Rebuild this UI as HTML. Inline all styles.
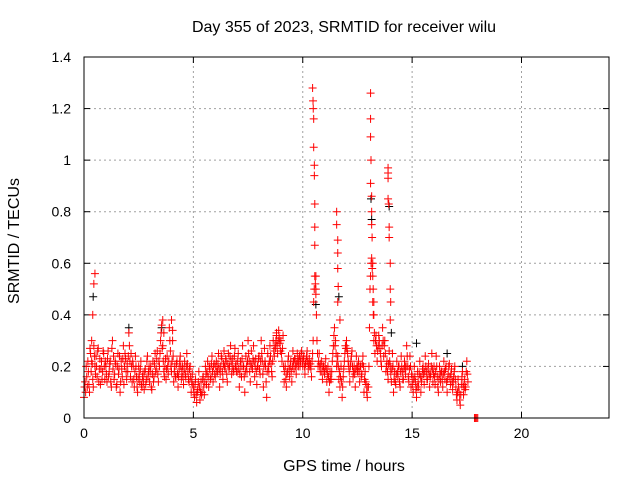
<!DOCTYPE html>
<html><head><meta charset="utf-8"><style>
body{margin:0;background:#fff}
svg text{font-family:"Liberation Sans",sans-serif;font-size:14px;fill:#000}
svg text.big{font-size:16px}
</style></head><body>
<svg id="chart" width="640" height="480" xmlns="http://www.w3.org/2000/svg">
<rect width="640" height="480" fill="#fff"/>
<text class="big" x="344" y="32" text-anchor="middle">Day 355 of 2023, SRMTID for receiver wilu</text>
<text class="big" x="344" y="471" text-anchor="middle">GPS time / hours</text>
<text class="big" x="19" y="241" text-anchor="middle" transform="rotate(-90 19 241)">SRMTID / TECUs</text>
<g id="grid"></g><g id="axes"></g><g id="marks"></g>
<rect x="84" y="57" width="525" height="361" fill="none" stroke="#000" stroke-width="1"/>
</svg>
<script>
const xTicks=[0,5,10,15,20];
const yTicks=[0,0.2,0.4,0.6,0.8,1,1.2,1.4];
const yTickLabels=["0","0.2","0.4","0.6","0.8","1","1.2","1.4"];
const baseStart=0, baseStep=0.05;
const baseValues=[
0.08,0.14,0.2,0.12,0.18,0.1,0.25,0.22,0.15,0.28,0.2,0.24,0.16,0.27,0.19,0.13,0.22,0.18,0.25,0.15,
0.2,0.14,0.26,0.18,0.22,0.12,0.3,0.24,0.17,0.21,0.13,0.25,0.19,0.1,0.22,0.16,0.28,0.2,0.23,0.15,
0.18,0.33,0.22,0.25,0.14,0.2,0.12,0.24,0.16,0.1,0.2,0.14,0.22,0.12,0.17,0.11,0.19,0.15,0.24,0.18,
0.14,0.2,0.11,0.22,0.16,0.25,0.19,0.26,0.14,0.2,0.3,0.36,0.28,0.18,0.2,0.15,0.24,0.17,0.35,0.26,
0.18,0.3,0.14,0.2,0.16,0.22,0.12,0.19,0.24,0.15,0.2,0.13,0.22,0.16,0.25,0.18,0.14,0.2,0.1,0.17,
0.12,0.08,0.15,0.06,0.11,0.18,0.07,0.14,0.1,0.16,0.09,0.2,0.13,0.22,0.12,0.19,0.16,0.24,0.14,0.21,
0.16,0.22,0.18,0.25,0.12,0.2,0.23,0.15,0.26,0.19,0.22,0.14,0.25,0.2,0.28,0.17,0.23,0.19,0.27,0.21,
0.18,0.25,0.12,0.22,0.16,0.28,0.2,0.1,0.24,0.18,0.3,0.22,0.14,0.26,0.19,0.28,0.16,0.23,0.13,0.2,
0.24,0.17,0.3,0.22,0.12,0.27,0.2,0.08,0.25,0.18,0.28,0.21,0.16,0.3,0.24,0.27,0.32,0.25,0.34,0.29,
0.3,0.22,0.32,0.14,0.2,0.12,0.18,0.24,0.16,0.22,0.14,0.26,0.19,0.23,0.17,0.25,0.2,0.24,0.22,0.26,
0.2,0.24,0.17,0.22,0.26,0.19,0.23,0.21,0.16,0.25,0.45,0.55,0.5,0.3,0.2,0.25,0.18,0.22,0.15,0.2,
0.17,0.23,0.14,0.2,0.1,0.18,0.15,0.22,0.28,0.35,0.3,0.2,0.24,0.15,0.12,0.2,0.08,0.16,0.22,0.28,
0.3,0.25,0.2,0.14,0.22,0.26,0.16,0.2,0.12,0.24,0.18,0.22,0.14,0.2,0.17,0.24,0.1,0.18,0.13,0.08,
0.12,0.35,0.55,0.62,0.45,0.3,0.25,0.32,0.22,0.28,0.3,0.25,0.2,0.35,0.24,0.3,0.18,0.22,0.15,0.26,
0.2,0.14,0.25,0.1,0.18,0.13,0.22,0.16,0.2,0.12,0.24,0.18,0.15,0.22,0.17,0.28,0.2,0.14,0.24,0.12,
0.16,0.1,0.2,0.14,0.08,0.18,0.12,0.22,0.1,0.16,0.2,0.13,0.24,0.18,0.15,0.21,0.12,0.17,0.25,0.14,
0.2,0.13,0.24,0.16,0.1,0.2,0.14,0.18,0.12,0.22,0.15,0.2,0.1,0.17,0.21,0.13,0.19,0.11,0.16,0.2,
0.12,0.07,0.15,0.1,0.05,0.13,0.18,0.09,0.15,0.12,0.22,0.14];
const base2Start=0.025;
const base2Values=[
0.12,0.1,0.16,0.22,0.13,0.27,0.18,0.21,0.12,0.24,0.17,0.2,0.26,0.14,0.23,0.19,0.15,0.26,0.2,0.22,
0.17,0.23,0.16,0.21,0.14,0.27,0.19,0.15,0.22,0.12,0.2,0.17,0.24,0.14,0.19,0.23,0.13,0.25,0.18,0.21,
0.24,0.28,0.16,0.2,0.22,0.15,0.18,0.2,0.12,0.15,0.17,0.19,0.13,0.16,0.14,0.18,0.13,0.22,0.16,0.2,
0.18,0.12,0.17,0.14,0.21,0.18,0.23,0.17,0.22,0.25,0.33,0.27,0.22,0.16,0.23,0.19,0.2,0.22,0.3,0.2,
0.22,0.24,0.18,0.16,0.21,0.17,0.16,0.22,0.2,0.18,0.16,0.19,0.17,0.2,0.21,0.15,0.19,0.16,0.14,0.13,
0.1,0.13,0.09,0.1,0.14,0.12,0.1,0.09,0.15,0.12,0.14,0.17,0.18,0.16,0.2,0.15,0.21,0.18,0.2,0.17,
0.2,0.18,0.21,0.19,0.17,0.24,0.18,0.21,0.2,0.23,0.17,0.21,0.19,0.24,0.22,0.2,0.18,0.24,0.2,0.18,
0.22,0.19,0.17,0.2,0.23,0.2,0.16,0.18,0.2,0.22,0.25,0.18,0.21,0.2,0.23,0.22,0.2,0.18,0.2,0.23,
0.19,0.22,0.25,0.17,0.2,0.22,0.14,0.18,0.2,0.22,0.24,0.18,0.22,0.26,0.28,0.3,0.28,0.3,0.31,0.26,
0.25,0.27,0.2,0.18,0.15,0.17,0.22,0.19,0.2,0.18,0.2,0.22,0.23,0.2,0.21,0.22,0.23,0.2,0.25,0.22,
0.23,0.2,0.21,0.24,0.22,0.21,0.2,0.19,0.22,0.3,0.5,0.52,0.4,0.25,0.22,0.2,0.21,0.18,0.2,0.18,
0.2,0.19,0.17,0.16,0.14,0.15,0.18,0.25,0.32,0.28,0.25,0.22,0.2,0.18,0.16,0.14,0.12,0.19,0.25,0.27,
0.27,0.22,0.18,0.2,0.24,0.2,0.18,0.17,0.19,0.2,0.2,0.18,0.2,0.16,0.21,0.2,0.15,0.14,0.1,0.12,
0.2,0.5,0.6,0.58,0.4,0.33,0.3,0.28,0.26,0.32,0.27,0.22,0.28,0.3,0.28,0.25,0.2,0.18,0.21,0.22,
0.17,0.19,0.2,0.15,0.14,0.17,0.18,0.2,0.14,0.18,0.2,0.15,0.19,0.2,0.2,0.24,0.16,0.19,0.2,0.17,
0.13,0.15,0.16,0.11,0.12,0.14,0.17,0.16,0.14,0.19,0.17,0.18,0.2,0.15,0.19,0.17,0.16,0.2,0.19,0.17,
0.16,0.18,0.2,0.12,0.15,0.17,0.18,0.15,0.17,0.18,0.19,0.14,0.15,0.2,0.16,0.17,0.14,0.14,0.18,0.15,
0.09,0.1,0.12,0.07,0.09,0.16,0.13,0.12,0.11,0.18,0.17];
const extraTimes=[0.45,0.5,0.4,0.35,3.6,3.65,4.0,4.05,8.8,10.45,10.47,10.48,10.5,10.5,10.53,10.53,10.55,10.55,10.55,10.6,10.6,11.55,11.55,11.6,11.6,11.6,11.62,11.6,11.7,13.1,13.1,13.1,13.12,13.1,13.15,13.15,13.15,13.17,13.2,13.2,13.22,13.25,13.25,13.9,13.9,13.9,13.9,13.93,13.95,13.95,14.0,14.0,14.02,14.0,17.85,17.9,17.95,18.0];
const extraValues=[0.52,0.56,0.4,0.3,0.38,0.33,0.38,0.34,0.33,1.28,1.23,1.2,1.16,1.05,0.98,0.94,0.83,0.74,0.67,0.55,0.48,0.8,0.75,0.69,0.64,0.58,0.51,0.45,0.38,1.26,1.16,1.09,1.0,0.91,0.86,0.8,0.75,0.7,0.6,0.55,0.5,0.45,0.4,0.97,0.95,0.93,0.85,0.83,0.74,0.7,0.6,0.5,0.45,0.38,0,0,0,0];
const blackTimes=[0.42,2.05,3.55,10.6,11.65,13.12,13.15,13.95,14.05,15.2,16.6,17.3];
const blackValues=[0.47,0.35,0.35,0.44,0.47,0.85,0.77,0.82,0.33,0.29,0.25,0.2];

const X0=84,X1=609,Y0=418,Y1=57;
const xs=v=>X0+(v/24)*(X1-X0);
const ys=v=>Y0-(v/1.4)*(Y0-Y1);
const NS="http://www.w3.org/2000/svg";
const grid=document.getElementById('grid'),axes=document.getElementById('axes'),marks=document.getElementById('marks');
function mk(tag,attrs,parent){const e=document.createElementNS(NS,tag);for(const k in attrs)e.setAttribute(k,attrs[k]);parent.appendChild(e);return e;}
xTicks.forEach((t,i)=>{const x=xs(t);
 if(t>0){const g=mk('line',{x1:x,x2:x,y1:Y0,y2:Y1,stroke:'#a0a0a0','stroke-dasharray':'2,3'},grid);
 
 }
 const a=mk('line',{x1:x,x2:x,y1:Y0,y2:Y0-6,stroke:'#000'},axes);
 
 
 const b=mk('line',{x1:x,x2:x,y1:Y1,y2:Y1+6,stroke:'#000'},axes);
 
 
 const tx=mk('text',{x:x,y:Y0+20,'text-anchor':'middle'},axes);tx.textContent=String(t);
 
 
});
yTicks.forEach((t,i)=>{const y=ys(t);
 if(t>0&&t<1.4){const g=mk('line',{x1:X0,x2:X1,y1:y,y2:y,stroke:'#a0a0a0','stroke-dasharray':'2,3'},grid);
 
 }
 const a=mk('line',{x1:X0,x2:X0+6,y1:y,y2:y,stroke:'#000'},axes);
 
 
 const b=mk('line',{x1:X1,x2:X1-6,y1:y,y2:y,stroke:'#000'},axes);
 
 
 const tx=mk('text',{x:X0-13,y:y+5,'text-anchor':'end'},axes);tx.textContent=yTickLabels[i];
 
 
});
function plus(t,v,color,name){const x=xs(t),y=ys(v);
 const p=mk('path',{d:`M${x-4},${y}H${x+4}M${x},${y-4}V${y+4}`,stroke:color,'stroke-width':1,fill:'none'},marks);
 
 }
blackTimes.forEach((t,i)=>plus(t,blackValues[i],'#000','black-point'));
baseValues.forEach((v,i)=>plus(baseStart+i*baseStep,v,'#f00','srmtid-point'));
base2Values.forEach((v,i)=>plus(base2Start+i*baseStep,v,'#f00','srmtid-point'));
extraTimes.forEach((t,i)=>plus(t,extraValues[i],'#f00','srmtid-point'));
</script>
</body></html>
